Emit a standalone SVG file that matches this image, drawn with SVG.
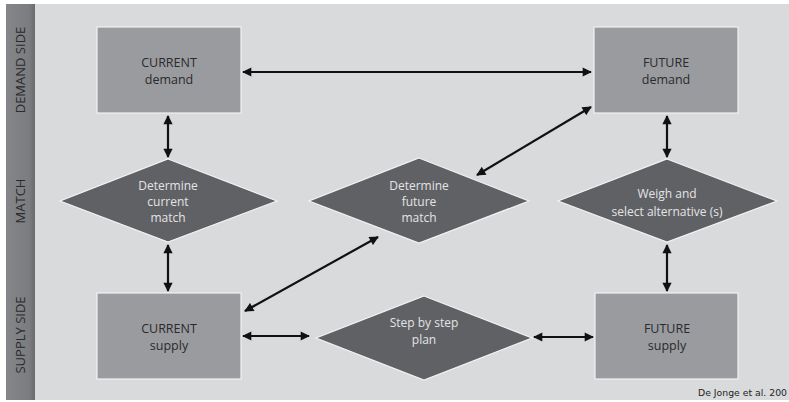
<svg xmlns="http://www.w3.org/2000/svg" width="789" height="402" viewBox="0 0 789 402">
  <style>
    .box { fill: #9a9b9f; stroke: #f2f2f2; stroke-width: 1.2; }
    .dia { fill: #606165; stroke: #f2f2f2; stroke-width: 1.2; }
    .boxtxt { font-family: "Open Sans", "DejaVu Sans", sans-serif; font-size: 12.5px; fill: #2a2a2c; text-anchor: middle; }
    .diatxt { font-family: "Open Sans", "DejaVu Sans", sans-serif; font-size: 12px; fill: #e4e4e6; text-anchor: middle; }
    .lane { font-family: "Open Sans", "DejaVu Sans", sans-serif; font-size: 13px; fill: #2a2a2c; text-anchor: middle; }
    .conn { stroke: #111; stroke-width: 2.2; fill: none; marker-start: url(#head); marker-end: url(#head); }
    .cite { font-family: "DejaVu Sans", sans-serif; font-size: 9.3px; fill: #1e1e1e; }
  </style>
  <defs>
    <marker id="head" viewBox="0 0 10 10" refX="9" refY="5" markerWidth="4.5" markerHeight="4.2" orient="auto-start-reverse" markerUnits="strokeWidth">
      <path d="M0,0 L10,5 L0,10 Z" fill="#111"/>
    </marker>
    <linearGradient id="stripFill" x1="0" y1="0" x2="1" y2="0">
      <stop offset="0" stop-color="#858689"/>
      <stop offset="0.8" stop-color="#7b7c7f"/>
      <stop offset="1" stop-color="#6a6b6e"/>
    </linearGradient>
  </defs>

  <!-- page -->
  <rect x="0" y="0" width="789" height="402" fill="#ffffff"/>
  <rect x="6" y="4" width="783" height="396" fill="#d9dadc"/>

  <!-- lane label strip -->
  <g id="lanes">
    <rect x="6" y="4" width="29" height="396" fill="url(#stripFill)"/>
    <text class="lane" transform="translate(25,70) rotate(-90)">DEMAND SIDE</text>
    <text class="lane" transform="translate(25,201) rotate(-90)">MATCH</text>
    <text class="lane" transform="translate(25,335) rotate(-90)">SUPPLY SIDE</text>
  </g>

  <!-- connectors -->
  <g id="connectors">
    <line class="conn" x1="243" y1="72" x2="591" y2="72"/>
    <line class="conn" x1="168" y1="116" x2="168" y2="157"/>
    <line class="conn" x1="168" y1="245" x2="168" y2="291"/>
    <line class="conn" x1="667" y1="116" x2="667" y2="157"/>
    <line class="conn" x1="667" y1="245" x2="667" y2="291"/>
    <line class="conn" x1="591" y1="107" x2="477" y2="175"/>
    <line class="conn" x1="245" y1="311" x2="378" y2="237"/>
    <line class="conn" x1="243" y1="336" x2="309" y2="336"/>
    <line class="conn" x1="534" y1="337" x2="593" y2="337"/>
  </g>

  <g id="current-demand">
    <rect class="box" x="97" y="27" width="144" height="86"/>
    <text class="boxtxt" x="169" y="67">CURRENT</text>
    <text class="boxtxt" x="169" y="84">demand</text>
  </g>

  <g id="future-demand">
    <rect class="box" x="594" y="27" width="144" height="86"/>
    <text class="boxtxt" x="666" y="67">FUTURE</text>
    <text class="boxtxt" x="666" y="84">demand</text>
  </g>

  <g id="current-supply">
    <rect class="box" x="97" y="293" width="144" height="86"/>
    <text class="boxtxt" x="169" y="333">CURRENT</text>
    <text class="boxtxt" x="169" y="350">supply</text>
  </g>

  <g id="future-supply">
    <rect class="box" x="595" y="293" width="143" height="86"/>
    <text class="boxtxt" x="667" y="333">FUTURE</text>
    <text class="boxtxt" x="667" y="350">supply</text>
  </g>

  <g id="current-match">
    <polygon class="dia" points="168,159 277,201 168,242 60,201"/>
    <text class="diatxt" x="168" y="190">Determine</text>
    <text class="diatxt" x="168" y="206">current</text>
    <text class="diatxt" x="168" y="222">match</text>
  </g>

  <g id="future-match">
    <polygon class="dia" points="419,158 529,201 419,243 309,201"/>
    <text class="diatxt" x="419" y="190">Determine</text>
    <text class="diatxt" x="419" y="206">future</text>
    <text class="diatxt" x="419" y="222">match</text>
  </g>

  <g id="weigh-select">
    <polygon class="dia" points="667,159 777,201 667,242 558,201"/>
    <text class="diatxt" x="667" y="198">Weigh and</text>
    <text class="diatxt" x="667" y="216">select alternative (s)</text>
  </g>

  <g id="step-plan">
    <polygon class="dia" points="424,296 532,338 424,380 316,338"/>
    <text class="diatxt" x="424" y="327">Step by step</text>
    <text class="diatxt" x="424" y="344">plan</text>
  </g>

  <text class="cite" x="698" y="396">De Jonge et al. 200</text>
</svg>
